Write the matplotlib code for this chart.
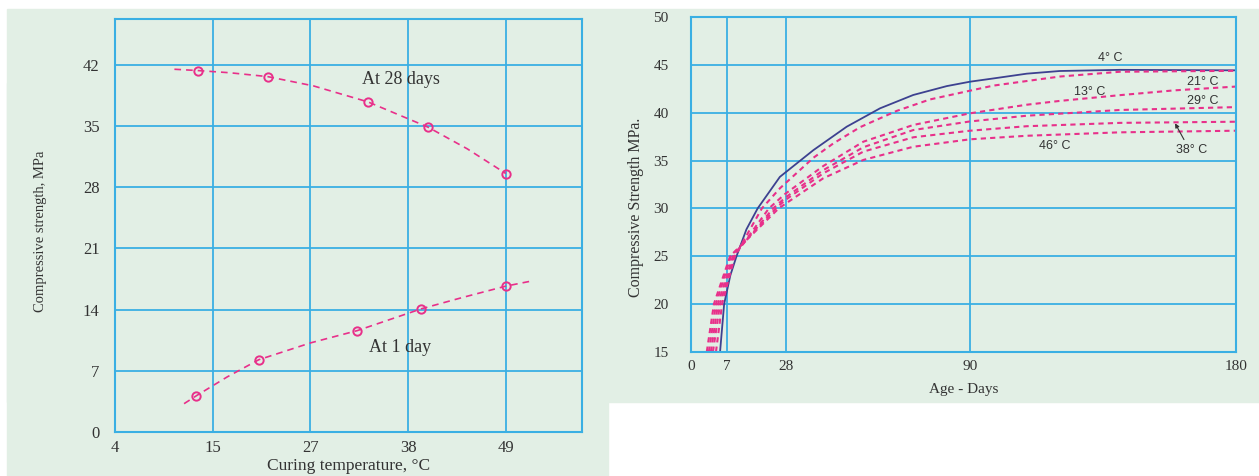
import numpy as np
import matplotlib
matplotlib.use('Agg')
import matplotlib.pyplot as plt
from matplotlib.patches import Rectangle

GREEN = '#e2efe5'
GRID = '#3aafe3'
PINK = '#e8308a'
NAVY = '#3d4190'
TXT = '#333333'
SERIF = 'Liberation Serif'
SANS = 'Liberation Sans'

# ---- left chart: strength vs curing temperature ----
tick_f = [40, 60, 80, 100, 120]                 # grid drawn every 20 F
tick_labels_c = ['4', '15', '27', '38', '49']
y_ticks_left = [0, 7, 14, 21, 28, 35, 42]

temp_28d = [13.9, 21.8, 33.2, 40.0, 48.9]
str_28d = [41.35, 40.66, 37.77, 34.9, 29.57]
curve_t_28d = [11.2, 13.9, 17.5, 21.8, 27.0, 33.2, 40.0, 44.5, 48.9]
curve_s_28d = [41.5, 41.35, 41.1, 40.66, 39.6, 37.77, 34.9, 32.4, 29.57]

temp_1d = [13.7, 20.8, 32.0, 39.3, 48.9]
str_1d = [4.15, 8.27, 11.6, 14.1, 16.69]
curve_t_1d = [12.3, 13.7, 17.2, 20.8, 26.7, 32.0, 39.3, 44.0, 48.9, 51.6]
curve_s_1d = [3.24, 4.15, 6.3, 8.27, 10.2, 11.6, 14.1, 15.4, 16.69, 17.23]

# ---- right chart: strength vs age for curing temperatures ----
age_ticks = [0, 7, 28, 90, 180]
age_px = [0, 35.7, 94.8, 279, 545]              # where the printed ticks sit

age_4c = [5.7, 6.5, 8.3, 10.5, 14.0, 18.0, 25.9, 37.3, 48.5, 59.7, 70.9, 82.2, 90.0, 97.9, 109.2, 120.4, 140.7, 180.0]
str_4c = [15.0, 20.0, 23.0, 25.0, 27.8, 30.0, 33.3, 36.1, 38.55, 40.47, 41.87, 42.8, 43.26, 43.6, 44.1, 44.38, 44.5, 44.45]

age_13c = [4.9, 6.1, 9.9, 19.5, 25.9, 37.3, 44.0, 53.0, 65.3, 76.5, 90.0, 97.9, 109.2, 120.4, 140.7, 180.0]
str_13c = [15.0, 20.0, 25.0, 30.0, 32.1, 35.3, 36.8, 38.5, 40.2, 41.4, 42.32, 42.85, 43.33, 43.8, 44.3, 44.4]

age_21c = [4.3, 5.7, 9.6, 22.0, 27.7, 40.6, 54.1, 70.9, 90.0, 109.2, 120.4, 140.7, 159.0, 180.0]
str_21c = [15.0, 20.0, 25.0, 30.0, 31.5, 34.43, 36.98, 38.73, 39.95, 40.85, 41.25, 41.85, 42.35, 42.75]

age_29c = [3.9, 5.3, 9.2, 23.5, 27.7, 40.6, 54.1, 70.9, 90.0, 109.2, 140.7, 180.0]
str_29c = [15.0, 20.0, 25.0, 30.0, 31.1, 34.0, 36.4, 38.2, 39.1, 39.7, 40.3, 40.6]

age_38c = [3.5, 4.9, 8.5, 24.5, 27.7, 40.6, 54.1, 70.9, 90.0, 109.2, 140.7, 180.0]
str_38c = [15.0, 20.0, 25.0, 30.0, 30.85, 33.67, 35.94, 37.44, 38.13, 38.6, 38.95, 39.07]

age_46c = [3.1, 4.5, 8.2, 25.5, 27.7, 40.6, 54.1, 70.9, 90.0, 109.2, 140.7, 180.0]
str_46c = [15.0, 20.0, 25.0, 30.0, 30.45, 33.15, 35.07, 36.45, 37.23, 37.6, 37.96, 38.13]


def f_to_c(f):
    return (np.asarray(f, dtype=float) - 32) * 5 / 9


def fwd(x):
    return np.interp(x, age_ticks, age_px)


def inv(p):
    return np.interp(p, age_px, age_ticks)


fig = plt.figure(figsize=(12.59, 4.76), dpi=100)
fig.patch.set_facecolor('white')
W, H = 1259, 476
fig.patches.append(Rectangle((7 / W, 1 - 402 / H), (W - 7) / W, (402 - 9) / H,
                             transform=fig.transFigure, color=GREEN, zorder=-5))
fig.patches.append(Rectangle((7 / W, 0), (608 - 7) / W, (402 - 9) / H,
                             transform=fig.transFigure, color=GREEN, zorder=-5))

# left axes
ax1 = fig.add_axes([115 / W, 1 - 432 / H, (582 - 115) / W, (432 - 19) / H])
ax1.set_facecolor(GREEN)
xt = f_to_c(tick_f)
ax1.set_xlim(xt[0], xt[0] + 4.78 * (xt[1] - xt[0]))
ax1.set_ylim(0, 47.25)
ax1.set_xticks(xt)
ax1.set_xticklabels(tick_labels_c)
ax1.set_yticks(y_ticks_left)
ax1.grid(True, color=GRID, lw=1.3)
ax1.set_axisbelow(True)

ax1.plot(curve_t_28d, curve_s_28d, color=PINK, lw=1.2, ls=(0, (4, 3)))
ax1.plot(temp_28d, str_28d, 'o', ms=6, mfc='none', mec=PINK, mew=1.4)
ax1.plot(curve_t_1d, curve_s_1d, color=PINK, lw=1.2, ls=(0, (4, 3)))
ax1.plot(temp_1d, str_1d, 'o', ms=6, mfc='none', mec=PINK, mew=1.4)

ax1.text(32.5, 40.3, 'At 28 days', family=SERIF, fontsize=13, color=TXT, va='center')
ax1.text(33.3, 9.7, 'At 1 day', family=SERIF, fontsize=13, color=TXT, va='center')
ax1.set_xlabel('Curing temperature, °C', family=SERIF, fontsize=12.5, color=TXT)
ax1.set_ylabel('Compressive strength, MPa', family=SERIF, fontsize=10.5, color=TXT)
ax1.xaxis.set_label_coords(0.5, -0.062)
ax1.yaxis.set_label_coords(-0.146, 0.487)

# right axes
ax2 = fig.add_axes([691 / W, 1 - 351.7 / H, (1236 - 691) / W, (351.7 - 17.3) / H])
ax2.set_facecolor(GREEN)
ax2.set_xscale('function', functions=(fwd, inv))
ax2.set_xlim(0, 180)
ax2.set_ylim(15, 50)
ax2.set_xticks(age_ticks)
ax2.set_xticklabels([str(a) for a in age_ticks])
ax2.set_yticks(range(15, 51, 5))
ax2.grid(True, color=GRID, lw=1.3)
ax2.set_axisbelow(True)
ax2.minorticks_off()

ax2.plot(age_4c, str_4c, color=NAVY, lw=1.3)
for ages, vals in [(age_13c, str_13c), (age_21c, str_21c), (age_29c, str_29c),
                   (age_38c, str_38c), (age_46c, str_46c)]:
    ax2.plot(ages, vals, color=PINK, lw=1.5, ls=(0, (2.5, 2)))

lab_kw = dict(family=SANS, fontsize=9, color=TXT, ha='center', va='center')
ax2.text(137.4, 45.74, '4° C', **lab_kw)
ax2.text(168.8, 43.26, '21° C', **lab_kw)
ax2.text(130.6, 42.2, '13° C', **lab_kw)
ax2.text(168.8, 41.27, '29° C', **lab_kw)
ax2.text(118.8, 36.53, '46° C', **lab_kw)
ax2.text(165.1, 36.1, '38° C', **lab_kw)
ax2.annotate('', xy=(159.4, 38.9), xytext=(162.4, 37.2),
             arrowprops=dict(arrowstyle='-|>', color=TXT, lw=0.8, mutation_scale=6,
                             shrinkA=0, shrinkB=0))

ax2.set_xlabel('Age - Days', family=SERIF, fontsize=11, color=TXT)
ax2.set_ylabel('Compressive Strength MPa.', family=SERIF, fontsize=11.5, color=TXT)
ax2.xaxis.set_label_coords(0.5, -0.094)
ax2.yaxis.set_label_coords(-0.087, 0.433)

for ax in (ax1, ax2):
    for s in ax.spines.values():
        s.set_color(GRID)
        s.set_linewidth(1.5)
    ax.tick_params(length=0, labelcolor=TXT, labelsize=11)
    for lab in ax.get_xticklabels() + ax.get_yticklabels():
        lab.set_family(SERIF)
ax1.tick_params(labelsize=12)
ax1.tick_params(axis='y', pad=11)
ax1.tick_params(axis='x', pad=6)
ax2.tick_params(axis='y', pad=16)
ax2.tick_params(axis='x', pad=6)

fig.savefig('out.png', dpi=100, facecolor='white')
